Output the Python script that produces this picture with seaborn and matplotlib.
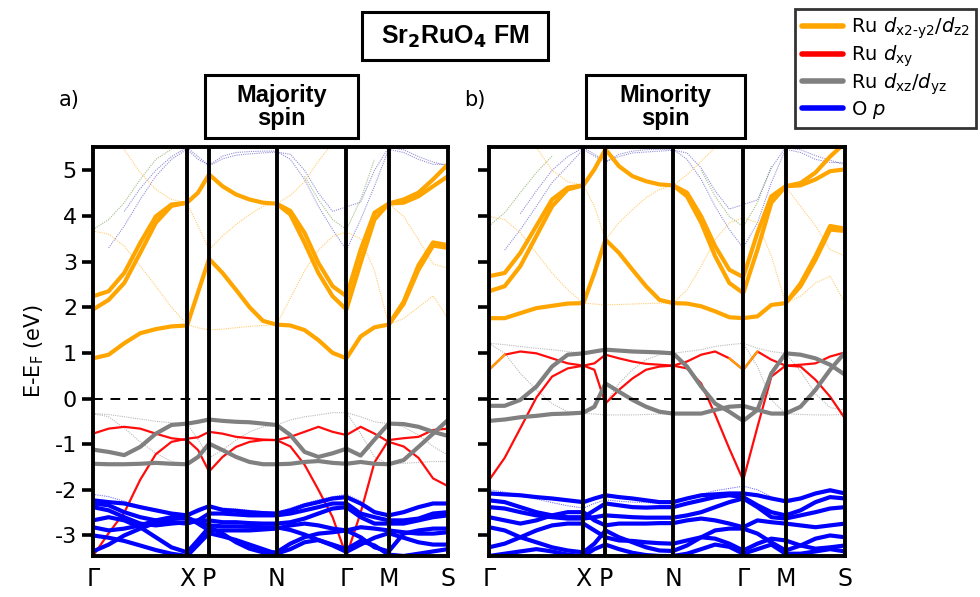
import numpy as np
import pandas as pd
import matplotlib
matplotlib.use("Agg")
import matplotlib.pyplot as plt
import seaborn as sns
from matplotlib.lines import Line2D
from matplotlib.patches import Rectangle

nan = np.nan

# k-path (fraction of path length) and labels
K_GRID = [0.0, 0.044, 0.088, 0.133, 0.177, 0.221, 0.265, 0.296, 0.327, 0.365, 0.403, 0.441, 0.479,
          0.517, 0.556, 0.596, 0.635, 0.675, 0.714, 0.754, 0.793, 0.833, 0.875, 0.917, 0.958, 1.0]
K_TICKS = [0.0, 0.265, 0.327, 0.517, 0.714, 0.833, 1.0]
K_LABELS = ["Γ", "X", "P", "N", "Γ", "M", "S"]
Y_TICKS = [-3, -2, -1, 0, 1, 2, 3, 4, 5]

# ---------------- majority spin bands (eV) ----------------
maj_eg1 = [0.88, 0.96, 1.21, 1.43, 1.52, 1.58, 1.60, 2.33, 3.06, 2.75, 2.38, 2.00, 1.70, 1.62, 1.60, 1.50, 1.28, 1.00, 0.88, 1.36, 1.56, 1.62, 2.07, 2.82, 3.35, 3.30]
maj_eg2 = [1.95, 2.16, 2.53, 3.19, 3.85, 4.22, 4.29, 4.51, 4.91, 4.65, 4.47, 4.36, 4.29, 4.27, 4.03, 3.41, 2.75, 2.24, 1.95, 2.97, 3.92, 4.27, 4.29, 4.43, 4.65, 4.87]
maj_eg3 = [2.24, 2.35, 2.75, 3.41, 3.99, 4.25, 4.29, nan, nan, nan, nan, nan, nan, 4.27, 4.11, 3.63, 2.97, 2.46, 2.24, 3.26, 4.07, 4.27, 4.36, 4.51, 4.80, 5.13]
maj_eg4 = [nan] * 21 + [1.62, 2.12, 2.92, 3.42, 3.36]
maj_eg_t1 = [3.67, 3.60, 3.34, 2.90, 2.46, 2.00, 1.62, 1.55, 1.50, 1.52, 1.55, 1.58, 1.60, 1.62, 2.20, 2.80, 3.25, 3.55, 3.65, 3.50, 2.80, 1.62, 1.75, 2.00, 2.25, 1.75]
maj_eg_t2 = [nan, nan, 5.45, 4.95, 4.58, 4.36, 4.29, 3.78, 3.26, 3.56, 3.81, 4.03, 4.21, 4.27, 4.45, 4.75, 5.20, 5.60, nan, nan, nan, nan, nan, nan, nan, nan]
maj_eg_t3 = [nan] * 21 + [4.27, 3.99, 3.48, 2.95, 2.85]
maj_mix = [3.70, 3.92, 4.29, 4.80, 5.24, 5.46, nan, nan, nan, nan, nan, nan, nan, nan, nan, 4.87, 4.36, 3.92, 3.70, 4.36, 5.24, nan, nan, nan, nan, nan]
maj_op_up1 = [nan, 3.30, 3.78, 4.36, 4.87, 5.24, 5.46, 5.24, 5.11, 5.31, 5.39, 5.41, 5.42, 5.42, 5.24, 4.80, 4.21, 3.70, 3.25, 3.92, 4.65, 5.46, 5.39, 5.24, 5.13, 5.13]
maj_op_up2 = [nan, nan, 4.10, 4.60, 5.00, 5.30, 5.50, 5.30, 5.10, 5.25, 5.33, 5.36, 5.38, 5.40, 5.35, 5.00, 4.50, 4.10, 4.20, 4.30, 5.00, 5.50, 5.45, 5.30, 5.18, 5.10]
maj_t2g1 = [-1.12, -1.17, -1.24, -1.06, -0.77, -0.58, -0.55, -0.51, -0.46, -0.49, -0.51, -0.52, -0.55, -0.58, -0.80, -1.17, -1.28, -1.20, -1.10, -1.25, -0.90, -0.55, -0.56, -0.62, -0.73, -0.82]
maj_t2g2 = [-1.43, -1.44, -1.44, -1.43, -1.41, -1.43, -1.44, -1.28, -0.99, -1.13, -1.28, -1.39, -1.44, -1.44, -1.43, -1.39, -1.37, -1.41, -1.43, -1.39, -1.43, -1.44, -1.35, -1.06, -0.77, -0.47]
maj_t2g_t1 = [-0.33, -0.35, -0.40, -0.45, -0.50, -0.53, -0.55, -0.90, -1.30, -1.13, -0.91, -0.73, -0.62, -0.58, -0.47, -0.40, -0.36, -0.31, -0.31, -0.40, -0.51, -0.55, -0.62, -0.80, -1.05, -1.24]
maj_t2g_t2 = [-0.33, -0.40, -0.65, -0.95, -1.20, -1.38, -1.44, nan, nan, nan, nan, nan, nan, nan, nan, nan, nan, nan, -0.31, -0.77, -1.28, -1.44, -1.42, -1.40, -1.38, -1.38]
maj_xy1 = [-3.45, -2.95, -2.50, -1.78, -1.22, -0.95, -0.88, -0.85, -0.73, -0.77, -0.84, -0.87, -0.90, -0.91, -1.05, -1.45, -2.00, -2.60, -3.45, -2.50, -1.40, -0.91, -0.87, -0.84, -0.69, -0.66]
maj_xy2 = [-0.77, -0.66, -0.62, -0.66, -0.77, -0.87, -0.91, -1.13, -1.60, -1.28, -1.06, -0.95, -0.91, -0.91, -0.84, -0.73, -0.62, -0.73, -0.80, -0.62, -0.77, -0.95, -1.05, -1.30, -1.75, -1.92]
maj_op1 = [-2.23, -2.27, -2.30, -2.38, -2.45, -2.52, -2.56, -2.45, -2.36, -2.44, -2.46, -2.49, -2.51, -2.52, -2.45, -2.34, -2.27, -2.19, -2.16, -2.30, -2.49, -2.56, -2.49, -2.38, -2.30, -2.30]
maj_op2 = [-2.30, -2.34, -2.49, -2.60, -2.67, -2.71, -2.74, -2.67, -2.52, -2.52, -2.54, -2.56, -2.56, -2.56, -2.52, -2.45, -2.38, -2.30, -2.30, -2.52, -2.60, -2.67, -2.67, -2.63, -2.52, -2.49]
maj_op3 = [-2.38, -2.45, -2.60, -2.74, -2.78, -2.74, -2.71, -2.67, -2.67, -2.71, -2.71, -2.73, -2.74, -2.74, -2.71, -2.63, -2.52, -2.41, -2.38, -2.60, -2.74, -2.74, -2.74, -2.67, -2.60, -2.56]
maj_op4 = [-2.67, -2.60, -2.67, -2.82, -3.04, -3.26, -3.37, -3.10, -2.82, -2.96, -3.15, -3.29, -3.37, -3.37, -3.18, -3.04, -2.96, -2.93, -2.89, -3.04, -3.26, -3.35, -2.96, -2.89, -2.85, -2.85]
maj_op5 = [-2.82, -2.89, -2.85, -2.78, -2.67, -2.60, -2.60, -2.74, -2.89, -2.89, -2.89, -2.89, -2.87, -2.85, -2.78, -2.74, -2.78, -2.85, -2.89, -2.82, -2.85, -2.89, -2.93, -2.96, -2.96, -2.93]
maj_op6 = [-3.00, -3.05, -3.12, -3.22, -3.32, -3.40, -3.45, -3.20, -2.95, -3.02, -3.10, -3.20, -3.30, -3.40, -3.30, -3.15, -3.10, -3.20, -3.30, -3.12, -3.22, -3.42, -3.45, -3.40, -3.35, -3.30]
maj_op7 = [-3.35, -3.20, -3.00, -2.85, -2.72, -2.64, -2.62, -2.70, -2.78, -2.80, -2.80, -2.81, -2.82, -2.82, -2.88, -2.98, -3.10, -3.22, -3.36, -3.20, -3.05, -2.95, -3.05, -3.15, -3.20, -3.20]
maj_op_t = [-2.10, -2.15, -2.25, -2.35, -2.45, -2.55, -2.58, -2.50, -2.38, -2.40, -2.42, -2.45, -2.48, -2.50, -2.40, -2.30, -2.22, -2.15, -2.10, -2.25, -2.45, -2.58, -2.50, -2.40, -2.32, -2.30]

# ---------------- minority spin bands (eV) ----------------
min_eg1 = [1.76, 1.76, 1.87, 1.98, 2.03, 2.08, 2.09, 2.75, 3.48, 3.19, 2.82, 2.46, 2.16, 2.09, 2.08, 2.02, 1.91, 1.78, 1.76, 1.80, 2.05, 2.09, 2.46, 3.04, 3.70, 3.67]
min_eg2 = [2.35, 2.46, 2.90, 3.56, 4.21, 4.58, 4.67, 5.02, 5.46, 5.09, 4.87, 4.76, 4.69, 4.67, 4.43, 3.85, 3.12, 2.53, 2.31, 3.26, 4.29, 4.65, 4.67, 4.80, 4.98, 5.02]
min_eg3 = [2.68, 2.75, 3.19, 3.78, 4.36, 4.62, 4.67, nan, nan, nan, nan, nan, nan, 4.67, 4.51, 3.99, 3.34, 2.82, 2.66, 3.63, 4.43, 4.65, 4.72, 4.95, 5.30, 5.60]
min_eg4 = [nan] * 21 + [2.09, 2.52, 3.12, 3.78, 3.72]
min_eg_t1 = [3.99, 3.92, 3.63, 3.19, 2.75, 2.38, 2.09, 2.07, 2.05, 2.06, 2.07, 2.08, 2.09, 2.09, 2.38, 2.90, 3.48, 3.85, 3.96, 3.85, 3.12, 2.09, 2.24, 2.53, 2.68, 2.09]
min_eg_t2 = [nan, nan, nan, 5.50, 5.00, 4.75, 4.67, 4.21, 3.48, 3.85, 4.14, 4.40, 4.58, 4.67, 4.90, 5.20, 5.50, nan, nan, nan, nan, nan, nan, nan, nan, nan]
min_eg_t3 = [nan] * 21 + [4.65, 4.21, 3.78, 3.26, 3.12]
min_eg_t4 = [0.63, 0.96] + [nan] * 15 + [0.88, 0.63, 1.03] + [nan] * 6
min_mix = [3.78, 4.07, 4.51, 4.95, 5.31, nan, nan, nan, nan, nan, nan, nan, nan, nan, nan, 5.00, 4.43, 3.99, 3.76, 4.29, 5.09, nan, nan, nan, nan, nan]
min_op_up1 = [nan, 3.25, 3.70, 4.21, 4.73, 5.09, 5.46, 5.31, 5.17, 5.35, 5.42, 5.45, 5.46, 5.46, 5.24, 4.80, 4.21, 3.70, 3.30, 3.85, 4.73, 5.46, 5.39, 5.24, 5.17, 5.17]
min_op_up2 = [nan, nan, 4.05, 4.55, 5.00, 5.30, 5.50, 5.35, 5.20, 5.30, 5.38, 5.40, 5.42, 5.44, 5.38, 5.05, 4.55, 4.15, 4.25, 4.35, 5.05, 5.50, 5.45, 5.32, 5.22, 5.12]
min_t2g1 = [-0.16, -0.16, -0.03, 0.26, 0.70, 0.96, 0.99, 1.03, 1.07, 1.05, 1.03, 1.02, 1.01, 0.99, 0.70, 0.26, -0.11, -0.29, -0.49, -0.25, 0.55, 0.99, 0.96, 0.88, 0.74, 0.52]
min_t2g2 = [-0.49, -0.46, -0.41, -0.38, -0.34, -0.33, -0.31, -0.18, 0.33, 0.15, -0.03, -0.18, -0.29, -0.33, -0.33, -0.33, -0.25, -0.18, -0.16, -0.25, -0.33, -0.33, -0.18, 0.19, 0.63, 1.01]
min_t2g_t1 = [1.21, 1.18, 1.14, 1.10, 1.07, 1.03, 0.99, nan, -0.10, 0.33, 0.63, 0.85, 0.96, 0.99, 1.03, 1.07, 1.14, 1.18, 1.21, 1.10, 1.03, 0.99, 0.60, 0.10, -0.20, -0.25]
min_t2g_t2 = [1.21, 0.99, 0.55, 0.19, -0.11, -0.29, -0.33, -0.34, -0.36, -0.36, -0.36, -0.35, -0.34, -0.33, nan, nan, nan, nan, 1.21, 0.70, -0.03, -0.33, -0.35, -0.36, -0.36, -0.35]
min_xy1 = [-1.79, -1.30, -0.65, 0.02, 0.48, 0.66, 0.72, 0.77, 0.96, 0.88, 0.81, 0.76, 0.74, 0.72, 0.66, 0.33, -0.35, -1.10, -1.79, -0.62, 0.48, 0.72, 0.74, 0.77, 0.92, 1.01]
min_xy2 = [0.63, 0.96, 1.03, 0.99, 0.88, 0.77, 0.72, 0.63, -0.11, 0.19, 0.44, 0.63, 0.70, 0.72, 0.81, 0.96, 1.03, 0.88, 0.63, 1.03, 0.85, 0.72, 0.70, 0.41, 0.04, -0.44]
min_op1 = [-2.08, -2.10, -2.12, -2.16, -2.19, -2.23, -2.27, -2.19, -2.12, -2.16, -2.19, -2.23, -2.27, -2.27, -2.19, -2.12, -2.10, -2.08, -2.08, -2.12, -2.19, -2.25, -2.19, -2.08, -2.01, -2.08]
min_op2 = [-2.23, -2.27, -2.38, -2.49, -2.56, -2.60, -2.60, -2.45, -2.30, -2.34, -2.38, -2.39, -2.38, -2.38, -2.30, -2.23, -2.16, -2.12, -2.16, -2.34, -2.49, -2.56, -2.45, -2.27, -2.16, -2.19]
min_op3 = [-2.38, -2.41, -2.49, -2.56, -2.60, -2.63, -2.63, -2.60, -2.56, -2.58, -2.60, -2.61, -2.61, -2.61, -2.56, -2.49, -2.38, -2.27, -2.19, -2.38, -2.60, -2.63, -2.56, -2.49, -2.41, -2.38]
min_op4 = [-2.60, -2.67, -2.74, -2.67, -2.56, -2.49, -2.49, -2.67, -2.78, -2.74, -2.74, -2.74, -2.73, -2.73, -2.67, -2.63, -2.67, -2.74, -2.82, -2.67, -2.71, -2.74, -2.78, -2.82, -2.78, -2.74]
min_op5 = [-2.82, -2.89, -3.04, -3.15, -3.26, -3.33, -3.37, -3.18, -2.89, -3.04, -3.15, -3.26, -3.33, -3.34, -3.22, -3.04, -2.89, -2.85, -2.85, -2.96, -3.15, -3.33, -3.22, -3.07, -3.00, -3.04]
min_op6 = [-3.26, -3.18, -3.04, -2.89, -2.78, -2.74, -2.74, -2.89, -3.04, -3.11, -3.12, -3.15, -3.17, -3.18, -3.11, -3.04, -3.07, -3.18, -3.33, -3.18, -3.07, -3.11, -3.22, -3.29, -3.26, -3.22]
min_op7 = [-3.45, -3.40, -3.35, -3.30, -3.35, -3.42, -3.45, -3.30, -3.20, -3.30, -3.38, -3.43, -3.45, -3.45, -3.40, -3.30, -3.20, -3.25, -3.40, -3.30, -3.20, -3.40, -3.40, -3.35, -3.30, -3.35]
min_op_t = [-2.00, -2.05, -2.12, -2.20, -2.28, -2.35, -2.40, -2.30, -2.22, -2.25, -2.27, -2.28, -2.30, -2.30, -2.20, -2.10, -2.02, -1.97, -1.92, -2.00, -2.15, -2.30, -2.20, -2.10, -2.05, -2.05]

# (values, orbital, weight) for each panel
MAJ_BANDS = {
    "eg_t1": (maj_eg_t1, "eg", "thin"), "eg_t2": (maj_eg_t2, "eg", "thin"), "eg_t3": (maj_eg_t3, "eg", "thin"),
    "mix": (maj_mix, "mix", "thin"), "op_up1": (maj_op_up1, "Oup", "thin"), "op_up2": (maj_op_up2, "Oup", "thin"),
    "t2g_t1": (maj_t2g_t1, "xzyz", "thin"), "t2g_t2": (maj_t2g_t2, "xzyz", "thin"), "op_t": (maj_op_t, "Op", "thin"),
    "xy2": (maj_xy2, "xy", "mid"), "xy1": (maj_xy1, "xy", "mid"),
    "op1": (maj_op1, "Op", "thick"), "op2": (maj_op2, "Op", "thick"), "op3": (maj_op3, "Op", "thick"),
    "op4": (maj_op4, "Op", "thick"), "op5": (maj_op5, "Op", "thick"), "op6": (maj_op6, "Op", "thick"),
    "op7": (maj_op7, "Op", "thick"),
    "t2g1": (maj_t2g1, "xzyz", "thick"), "t2g2": (maj_t2g2, "xzyz", "thick"),
    "eg1": (maj_eg1, "eg", "thick"), "eg2": (maj_eg2, "eg", "thick"), "eg3": (maj_eg3, "eg", "thick"),
    "eg4": (maj_eg4, "eg", "thick"),
}
MIN_BANDS = {
    "eg_t1": (min_eg_t1, "eg", "thin"), "eg_t2": (min_eg_t2, "eg", "thin"), "eg_t3": (min_eg_t3, "eg", "thin"),
    "mix": (min_mix, "mix", "thin"), "op_up1": (min_op_up1, "Oup", "thin"), "op_up2": (min_op_up2, "Oup", "thin"),
    "t2g_t1": (min_t2g_t1, "xzyz", "thin"), "t2g_t2": (min_t2g_t2, "xzyz", "thin"), "op_t": (min_op_t, "Op", "thin"),
    "xy2": (min_xy2, "xy", "mid"), "eg_t4": (min_eg_t4, "eg", "mid"), "xy1": (min_xy1, "xy", "mid"),
    "op1": (min_op1, "Op", "thick"), "op2": (min_op2, "Op", "thick"), "op3": (min_op3, "Op", "thick"),
    "op4": (min_op4, "Op", "thick"), "op5": (min_op5, "Op", "thick"), "op6": (min_op6, "Op", "thick"),
    "op7": (min_op7, "Op", "thick"),
    "t2g1": (min_t2g1, "xzyz", "thick"), "t2g2": (min_t2g2, "xzyz", "thick"),
    "eg1": (min_eg1, "eg", "thick"), "eg2": (min_eg2, "eg", "thick"), "eg3": (min_eg3, "eg", "thick"),
    "eg4": (min_eg4, "eg", "thick"),
}

PALETTE = {"Op": "#0000ff", "Oup": "#3b34b8", "xzyz": "#808080", "xy": "#ff0000",
           "eg": "#ffa500", "mix": "#5c8a2c"}
ORDER = ["Op", "Oup", "mix", "xzyz", "xy", "eg"]
STYLES = [("thin", dict(linewidth=0.8, alpha=0.55, linestyle=(0, (1, 1)))),
          ("mid", dict(linewidth=1.6, alpha=0.95)),
          ("thick", dict(linewidth=3.0))]


def long_form(bands):
    rows = []
    for name, (vals, orb, wt) in bands.items():
        seg = 0
        for k, e in zip(K_GRID, vals):
            if np.isnan(e):
                seg += 1
                continue
            rows.append(dict(seg=f"{name}_{seg}", k=k, E=e, orbital=orb, weight=wt))
    return pd.DataFrame(rows)


sns.set_theme(style="white")
plt.rcParams["font.family"] = ["DejaVu Sans"]
plt.rcParams["mathtext.fontset"] = "dejavusans"
for key in ["text.color", "axes.labelcolor", "xtick.color", "ytick.color"]:
    plt.rcParams[key] = "black"

fig = plt.figure(figsize=(9.8, 5.97), dpi=100)
ax_a = fig.add_axes([0.0949, 0.0687, 0.3622, 0.6843])
ax_b = fig.add_axes([0.499, 0.0687, 0.3633, 0.6843])

for ax, bands in [(ax_a, MAJ_BANDS), (ax_b, MIN_BANDS)]:
    df = long_form(bands)
    for wt, kw in STYLES:
        sub = df[df.weight == wt]
        sns.lineplot(data=sub, x="k", y="E", hue="orbital",
                     hue_order=[o for o in ORDER if o in set(sub.orbital)],
                     palette=PALETTE, units="seg", estimator=None, sort=False,
                     legend=False, ax=ax, solid_capstyle="round", **kw)
    for kt in K_TICKS[1:-1]:
        ax.axvline(kt, color="black", lw=2.8, zorder=5)
    ax.axhline(0, color="black", lw=1.4, ls=(0, (5, 4)), zorder=6)
    ax.set_xlim(0, 1)
    ax.set_ylim(-3.45, 5.5)
    ax.set_xticks(K_TICKS)
    ax.set_xticklabels(K_LABELS, fontsize=17)
    ax.set_yticks(Y_TICKS)
    ax.tick_params(axis="x", length=0, pad=8)
    ax.tick_params(axis="y", length=8, width=2.6, direction="out", labelsize=16, left=True)
    ax.set_xlabel("")
    ax.set_ylabel("")
    for s in ax.spines.values():
        s.set_linewidth(2.8)
        s.set_color("black")
        s.set_zorder(7)

ax_b.set_yticklabels([])
ax_a.set_yticklabels([str(t) for t in Y_TICKS])
ax_a.set_ylabel("E-E$_\\mathrm{F}$ (eV)", fontsize=15, labelpad=6)

# boxed titles (figure-pixel boxes converted to figure fractions)
W, H = 980.0, 597.0
for (x0, y0, x1, y1) in [(362, 12, 548, 60), (205, 75, 358, 138), (586, 75, 745, 138)]:
    fig.add_artist(Rectangle((x0 / W, 1 - y1 / H), (x1 - x0) / W, (y1 - y0) / H,
                             transform=fig.transFigure, fc="white", ec="black", lw=2.2))
bold_font = dict(family=["Liberation Sans", "DejaVu Sans"], fontweight="bold")
fig.text(455 / W, 1 - 37 / H, "Sr$_\\mathbf{2}$RuO$_\\mathbf{4}$ FM", fontsize=18,
         ha="center", va="center", **bold_font)
fig.text(281.5 / W, 1 - 107 / H, "Majority\nspin", fontsize=17, ha="center", va="center",
         linespacing=0.95, **bold_font)
fig.text(665.5 / W, 1 - 107 / H, "Minority\nspin", fontsize=17, ha="center", va="center",
         linespacing=0.95, **bold_font)
fig.text(0.071, 0.832, "a)", fontsize=15, ha="center", va="center")
fig.text(0.485, 0.832, "b)", fontsize=15, ha="center", va="center")

handles = [Line2D([], [], color=PALETTE["eg"], lw=4),
           Line2D([], [], color=PALETTE["xy"], lw=4),
           Line2D([], [], color=PALETTE["xzyz"], lw=4),
           Line2D([], [], color=PALETTE["Op"], lw=4)]
labels = ["Ru $d_\\mathrm{x2\\text{-}y2}/d_\\mathrm{z2}$", "Ru $d_\\mathrm{xy}$",
          "Ru $d_\\mathrm{xz}/d_\\mathrm{yz}$", "O $p$"]
leg = fig.legend(handles, labels, loc="upper right", bbox_to_anchor=(1.006, 1.002), fontsize=14,
                 frameon=True, fancybox=False, edgecolor="black", handlelength=2.1,
                 labelspacing=0.12, borderpad=0.35, handletextpad=0.4)
leg.get_frame().set_linewidth(2)

fig.savefig("out.png", dpi=100)
